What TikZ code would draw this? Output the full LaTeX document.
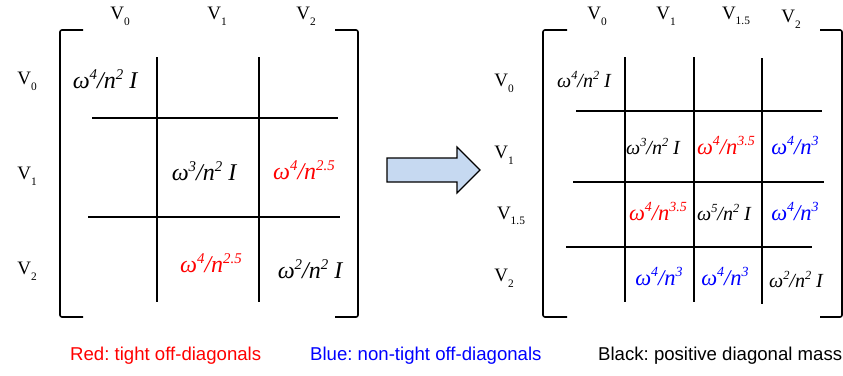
\documentclass[tikz,border=0pt]{standalone}
\usepackage{fontspec}
\setmainfont{Liberation Serif}
\setsansfont{Liberation Sans}
\usepackage{xcolor}
\usepackage{graphicx}
\usetikzlibrary{positioning}
\definecolor{Tight}{HTML}{FF0000}
\definecolor{Loose}{HTML}{0000FF}
\definecolor{ArrowFill}{HTML}{C6D9F1}
\frenchspacing
\newcommand{\up}[1]{\raisebox{.4em}{\scalebox{.62}{#1}}}
\newcommand{\dn}[1]{\raisebox{-.3em}{\scalebox{.6}{#1}}}
\newcommand{\wn}[2]{ω\up{#1}/n\up{#2}}
\newcommand{\vv}[1]{V\dn{#1}}

\begin{document}
\begin{tikzpicture}[x=1pt,y=-1pt,
lbl/.style={font=\fontsize{19}{19}\selectfont,inner sep=0pt},
cell/.style={font=\fontsize{24}{24}\selectfont\itshape,inner sep=0pt},
cellr/.style={font=\fontsize{20}{20}\selectfont\itshape,inner sep=0pt},
offd/.style={cellr,font=\fontsize{22.5}{22.5}\selectfont\itshape},
grid/.style={line width=1.3pt},
brk/.style={line width=1.6pt,rounded corners=2pt},
key/.style={font=\sffamily\fontsize{18.6}{18.6}\selectfont,inner sep=0pt,anchor=west}]
\useasboundingbox (0,0) rectangle (843,375);
% left matrix
\draw[brk] (83,30)--(60,30)--(60,317)--(83,317);
\draw[brk] (335,30)--(358,30)--(358,317)--(335,317);
\draw[grid] (157,57)--(157,302);
\draw[grid] (259,57)--(259,302);
\draw[grid] (92,118)--(338,118);
\draw[grid] (88,217)--(340,217);
\node[lbl] (c0) at (120,16) {\vv{0}};
\node[lbl] (c1) at (217,16) {\vv{1}};
\node[lbl] (c2) at (306,16) {\vv{2}};
\node[lbl] (r0) at (27,81) {\vv{0}};
\node[lbl] (r1) at (27,176) {\vv{1}};
\node[lbl] (r2) at (27,271) {\vv{2}};
\node[cell] (a00) at (105,79) {\wn{4}{2} I};
\node[cell] (a11) at (204,171) {\wn{3}{2} I};
\node[cell,Tight] (a12) at (304,170) {\wn{4}{2.5}};
\node[cell,Tight] (a21) at (211,263) {\wn{4}{2.5}};
\node[cell] (a22) at (310,269) {\wn{2}{2} I};
% arrow
\draw[line width=1.2pt,fill=ArrowFill] (387,158)--(457,158)--(457,147)--(480,170)--(457,193)--(457,182)--(387,182)--cycle;
% right matrix
\draw[brk] (567,30)--(543,30)--(543,317)--(567,317);
\draw[brk] (820,30)--(842,30)--(842,317)--(820,317);
\draw[grid] (625,57)--(625,302);
\draw[grid] (694,57)--(694,302);
\draw[grid] (762,58)--(762,304);
\draw[grid] (576,111)--(822,111);
\draw[grid] (573,182)--(824,182);
\draw[grid] (566,247)--(812,247);
\node[lbl] (d0) at (597,16) {\vv{0}};
\node[lbl] (d1) at (666,16) {\vv{1}};
\node[lbl] (d15) at (736,16) {\vv{1.5}};
\node[lbl] (d2) at (791,19) {\vv{2}};
\node[lbl] (s0) at (504,83) {\vv{0}};
\node[lbl] (s1) at (504,155) {\vv{1}};
\node[lbl] (s15) at (511,216) {\vv{1.5}};
\node[lbl] (s2) at (504,278) {\vv{2}};
\node[cellr] (b00) at (584,79) {\wn{4}{2} I};
\node[cellr] (b11) at (653,146) {\wn{3}{2} I};
\node[offd,Tight] (b12) at (726,145) {\wn{4}{3.5}};
\node[offd,Loose] (b13) at (795,145) {\wn{4}{3}};
\node[offd,Tight] (b21) at (658,211) {\wn{4}{3.5}};
\node[cellr] (b22) at (724,212) {\wn{5}{2} I};
\node[offd,Loose] (b23) at (795,211) {\wn{4}{3}};
\node[offd,Loose] (b31) at (659,276) {\wn{4}{3}};
\node[offd,Loose] (b32) at (725,276) {\wn{4}{3}};
\node[cellr] (b33) at (796,279) {\wn{2}{2} I};
% legend
\node[key,Tight] (kr) at (70,356) {Red: tight off-diagonals};
\node[key,Loose] (kb) at (310,356) {Blue: non-tight off-diagonals};
\node[key] (kk) at (598,356) {Black: positive diagonal mass};
\end{tikzpicture}
\end{document}
